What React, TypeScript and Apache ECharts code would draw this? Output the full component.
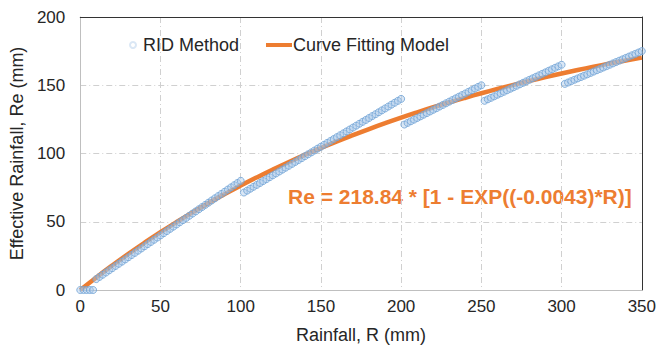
import React, { useEffect, useRef } from "react";
import * as echarts from "echarts";

// RID Method (scatter) — rainfall R (mm) and effective rainfall Re (mm)
const ridRainfall = [
  0, 2, 4, 6, 8, 10, 12, 14, 16, 18, 20, 22, 24, 26, 28, 30, 32, 34, 36, 38, 40, 42, 44, 46, 48, 50,
  52, 54, 56, 58, 60, 62, 64, 66, 68, 70, 72, 74, 76, 78, 80, 82, 84, 86, 88, 90, 92, 94, 96, 98, 100,
  102, 104, 106, 108, 110, 112, 114, 116, 118, 120, 122, 124, 126, 128, 130, 132, 134, 136, 138, 140,
  142, 144, 146, 148, 150, 152, 154, 156, 158, 160, 162, 164, 166, 168, 170, 172, 174, 176, 178, 180,
  182, 184, 186, 188, 190, 192, 194, 196, 198, 200,
  202, 204, 206, 208, 210, 212, 214, 216, 218, 220, 222, 224, 226, 228, 230, 232, 234, 236, 238, 240,
  242, 244, 246, 248, 250,
  252, 254, 256, 258, 260, 262, 264, 266, 268, 270, 272, 274, 276, 278, 280, 282, 284, 286, 288, 290,
  292, 294, 296, 298, 300,
  302, 304, 306, 308, 310, 312, 314, 316, 318, 320, 322, 324, 326, 328, 330, 332, 334, 336, 338, 340,
  342, 344, 346, 348, 350,
];
const ridEffective = [
  0, 0, 0, 0, 0, 8, 9.6, 11.2, 12.8, 14.4, 16, 17.6, 19.2, 20.8, 22.4, 24, 25.6, 27.2, 28.8, 30.4, 32,
  33.6, 35.2, 36.8, 38.4, 40, 41.6, 43.2, 44.8, 46.4, 48, 49.6, 51.2, 52.8, 54.4, 56, 57.6, 59.2, 60.8,
  62.4, 64, 65.6, 67.2, 68.8, 70.4, 72, 73.6, 75.2, 76.8, 78.4, 80,
  71.4, 72.8, 74.2, 75.6, 77, 78.4, 79.8, 81.2, 82.6, 84, 85.4, 86.8, 88.2, 89.6, 91, 92.4, 93.8, 95.2,
  96.6, 98, 99.4, 100.8, 102.2, 103.6, 105, 106.4, 107.8, 109.2, 110.6, 112, 113.4, 114.8, 116.2,
  117.6, 119, 120.4, 121.8, 123.2, 124.6, 126, 127.4, 128.8, 130.2, 131.6, 133, 134.4, 135.8, 137.2,
  138.6, 140,
  121.2, 122.4, 123.6, 124.8, 126, 127.2, 128.4, 129.6, 130.8, 132, 133.2, 134.4, 135.6, 136.8, 138,
  139.2, 140.4, 141.6, 142.8, 144, 145.2, 146.4, 147.6, 148.8, 150,
  138.6, 139.7, 140.8, 141.9, 143, 144.1, 145.2, 146.3, 147.4, 148.5, 149.6, 150.7, 151.8, 152.9, 154,
  155.1, 156.2, 157.3, 158.4, 159.5, 160.6, 161.7, 162.8, 163.9, 165,
  151, 152, 153, 154, 155, 156, 157, 158, 159, 160, 161, 162, 163, 164, 165, 166, 167, 168, 169, 170,
  171, 172, 173, 174, 175,
];

// Curve Fitting Model (line)
const curveRainfall = [
  0, 10, 20, 30, 40, 50, 60, 70, 80, 90, 100, 110, 120, 130, 140, 150, 160, 170, 180, 190, 200,
  210, 220, 230, 240, 250, 260, 270, 280, 290, 300, 310, 320, 330, 340, 350,
];
const curveEffective = [
  0, 9.21, 18.03, 26.49, 34.58, 42.34, 49.76, 56.88, 63.7, 70.23, 76.48, 82.47, 88.21, 93.71, 98.98,
  104.02, 108.86, 113.48, 117.92, 122.17, 126.24, 130.13, 133.87, 137.45, 140.87, 144.15, 147.3,
  150.31, 153.19, 155.96, 158.6, 161.14, 163.57, 165.89, 168.12, 170.26,
];

const seriesNames = ["RID Method", "Curve Fitting Model"];
const equationText = "Re = 218.84 * [1 - EXP((-0.0043)*R)]";

const FONT = "'Liberation Sans', Arial, sans-serif";
const BLUE = "#6FA3D6";
const ORANGE = "#ED7D31";
const TEXT = "#262626";

export default function App() {
  const ref = useRef<HTMLDivElement>(null);

  useEffect(() => {
    if (!ref.current) return;
    const chart = echarts.init(ref.current, undefined, { renderer: "svg" });

    const ridData = ridRainfall.map((r, i) => [r, ridEffective[i]]);
    const curveData = curveRainfall.map((r, i) => [r, curveEffective[i]]);

    const splitLine = {
      show: true,
      lineStyle: { color: "#D0D0D0", width: 1, type: [6, 3, 1, 3] as any },
    };

    chart.setOption({
      animation: false,
      backgroundColor: "#ffffff",
      textStyle: { fontFamily: FONT },
      grid: { left: 78, right: 16, top: 17, bottom: 54, containLabel: false },
      legend: [
        {
          data: [{ name: seriesNames[0], icon: "emptyCircle" }],
          left: 124,
          top: 31,
          itemWidth: 10,
          itemHeight: 6,
          textStyle: { fontFamily: FONT, fontSize: 18, color: TEXT },
        },
        {
          data: [{ name: seriesNames[1], icon: "rect" }],
          left: 261,
          top: 31,
          itemWidth: 26,
          itemHeight: 4,
          textStyle: { fontFamily: FONT, fontSize: 18, color: TEXT, padding: [0, 0, 0, -4] },
        },
      ],
      xAxis: [
        {
          type: "value",
          min: 0,
          max: 350,
          interval: 50,
          name: "Rainfall, R (mm)",
          nameLocation: "middle",
          nameGap: 36,
          nameTextStyle: { fontFamily: FONT, fontSize: 18, color: TEXT },
          axisLine: { show: true, lineStyle: { color: "#BFBFBF" } },
          axisTick: { show: false },
          axisLabel: { fontFamily: FONT, fontSize: 17, color: TEXT, margin: 8 },
          splitLine,
        },
        {
          type: "value",
          position: "top",
          min: 0,
          max: 350,
          interval: 50,
          axisLine: { show: true, onZero: false, lineStyle: { color: "#333", width: 1 } },
          axisTick: { show: false },
          axisLabel: { show: false },
          splitLine: { show: false },
        },
      ],
      yAxis: [
        {
          type: "value",
          min: 0,
          max: 200,
          interval: 50,
          name: "Effective Rainfall, Re (mm)",
          nameLocation: "middle",
          nameGap: 47,
          nameTextStyle: { fontFamily: FONT, fontSize: 18, color: TEXT },
          axisLine: { show: true, lineStyle: { color: "#BFBFBF" } },
          axisTick: { show: false },
          axisLabel: { fontFamily: FONT, fontSize: 17, color: TEXT, margin: 15 },
          splitLine,
        },
        {
          type: "value",
          position: "right",
          min: 0,
          max: 200,
          interval: 50,
          axisLine: { show: true, onZero: false, lineStyle: { color: "#333", width: 1 } },
          axisTick: { show: false },
          axisLabel: { show: false },
          splitLine: { show: false },
        },
      ],
      series: [
        {
          name: seriesNames[1],
          type: "line",
          data: curveData,
          smooth: true,
          showSymbol: false,
          lineStyle: { color: ORANGE, width: 4.5 },
          itemStyle: { color: ORANGE },
          z: 2,
        },
        {
          name: seriesNames[0],
          type: "scatter",
          data: ridData,
          symbol: "circle",
          symbolSize: 7,
          itemStyle: {
            color: "rgba(170,200,232,0.55)",
            borderColor: BLUE,
            borderWidth: 1,
          },
          z: 3,
        },
      ],
      graphic: [
        {
          type: "text",
          left: 288,
          top: 186,
          style: {
            text: equationText,
            fill: ORANGE,
            font: `bold 21px ${FONT}`,
          },
        },
      ],
    });

    return () => chart.dispose();
  }, []);

  return (
    <div
      ref={ref}
      style={{ position: "fixed", left: 0, top: 0, width: 659, height: 349 }}
    />
  );
}
